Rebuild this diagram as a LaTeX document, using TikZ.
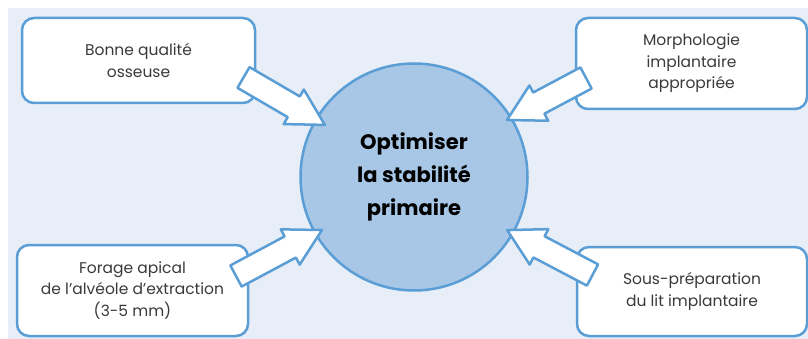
\documentclass[tikz,border=0pt]{standalone}
\usepackage{fontspec}
\setmainfont{Poppins}
\usetikzlibrary{calc}

\definecolor{bgblue}{HTML}{E8EEF7}
\definecolor{lineblue}{HTML}{5A9ED5}
\definecolor{discblue}{HTML}{A8C7E7}
\definecolor{textgrey}{HTML}{3A3A3A}

% wide hollow arrow from #1 to #2
\newcommand{\fatarrow}[2]{%
  \draw[blockarrow] let \p1=($(#2)-(#1)$), \n1={atan2(\y1,\x1)}, \n2={veclen(\x1,\y1)} in
    [shift={(#1)}, rotate=\n1]
    (0pt,-12pt) -- (\n2-36pt,-12pt) -- (\n2-36pt,-20pt) -- (\n2,0pt)
    -- (\n2-36pt,20pt) -- (\n2-36pt,12pt) -- (0pt,12pt) -- cycle;}

\begin{document}
\begin{tikzpicture}[x=1pt, y=-1pt,
    factor/.style={draw=lineblue, line width=2.5pt, fill=white, rounded corners=12pt,
      align=center, text=textgrey, inner sep=0pt,
      font=\fontsize{15.5}{21.5}\selectfont},
    goal/.style={circle, draw=lineblue, line width=2.5pt, fill=discblue,
      align=center, inner sep=0pt, minimum size=227pt,
      font=\fontsize{21}{33}\selectfont\bfseries},
    blockarrow/.style={draw=lineblue, line width=2.5pt, fill=white, line join=round}]
  \useasboundingbox (0,0) rectangle (808,339);
  \fill[bgblue] (8,8) rectangle (808,339);

  \node[goal] (goal) at (414,177) {Optimiser\\la stabilité\\primaire};

  \node[factor, minimum width=233pt, minimum height=85pt] (bone) at (138.5,60.5)
    {Bonne qualité\\osseuse};
  \node[factor, minimum width=231pt, minimum height=91pt] (morpho) at (691.5,63.5)
    {Morphologie\\implantaire\\appropriée};
  \node[factor, minimum width=231pt, minimum height=91pt] (apical) at (132.5,290.5)
    {Forage apical\\de l'alvéole d'extraction\\(3-5 mm)};
  \node[factor, minimum width=230pt, minimum height=89pt] (under) at (692,291.5)
    {Sous-préparation\\du lit implantaire};

  % tails and tips of the arrows
  \coordinate (bone-tail) at (243.5,77.5);
  \coordinate (bone-tip) at (325,125);
  \coordinate (morpho-tail) at (586,78);
  \coordinate (morpho-tip) at (507,120);
  \coordinate (apical-tail) at (236,276);
  \coordinate (apical-tip) at (322,230);
  \coordinate (under-tail) at (592.5,275);
  \coordinate (under-tip) at (507,230);

  \foreach \f in {bone,morpho,apical,under}{
    \fatarrow{\f-tail}{\f-tip}
  }
\end{tikzpicture}
\end{document}
